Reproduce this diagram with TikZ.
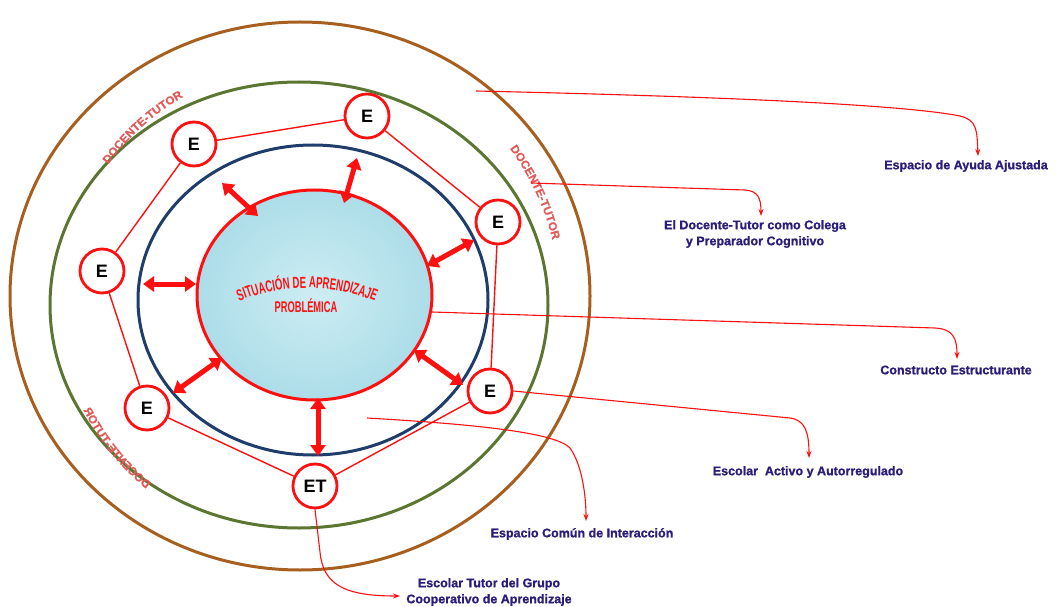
\documentclass[tikz,border=0pt]{standalone}
\usepackage{fontspec}
\setmainfont{Liberation Sans}
\newfontfamily\condfont[FakeStretch=0.6]{Liberation Sans}
\newfontfamily\widefont[FakeStretch=1.02,FakeBold=0.8]{Liberation Sans}
\newfontfamily\lblfont[FakeBold=1]{Liberation Sans}
\usetikzlibrary{arrows.meta,decorations.text}
\definecolor{cbrown}{HTML}{A65F1F}
\definecolor{cgreen}{HTML}{5B7630}
\definecolor{cblue}{HTML}{1E3D6B}
\definecolor{cred}{HTML}{FF1010}
\definecolor{cin}{HTML}{CDEDF3}
\definecolor{cout}{HTML}{ACDDE8}
\definecolor{cnavy}{HTML}{2B1D7A}
\definecolor{cpink}{HTML}{E25A5A}
\begin{document}
\begin{tikzpicture}[x=1pt,y=-1pt,
  ring/.style={line width=3pt},
  enode/.style={circle,draw=cred,line width=2.8pt,fill=white,minimum size=44pt,inner sep=0pt,font=\fontsize{18}{18}\selectfont\bfseries},
  link/.style={draw=cred,line width=1.4pt},
  dbl/.style={draw=cred,line width=5pt,{Triangle[width=15pt,length=11pt]}-{Triangle[width=15pt,length=11pt]}},
  lead/.style={draw=cred,line width=1.1pt,-{Stealth[length=7pt,width=5pt]}},
  lbl/.style={text=cnavy,font=\lblfont\fontsize{12.5}{16}\selectfont\bfseries,align=center,inner sep=0pt},
  dtext/.style={decorate,decoration={text along path,text align=center,
     text={|\widefont\bfseries\fontsize{11.5}{11.5}\selectfont\color{cpink}|DOCENTE-TUTOR}}},
]
\useasboundingbox (0,0) rectangle (1058,607);
\fill[white] (0,0) rectangle (1058,607);

% rings
\draw[ring,cbrown] (300,296) ellipse [x radius=290,y radius=274];
\draw[ring,cgreen] (299,305) ellipse [x radius=249,y radius=223];
\draw[ring,cblue] (313,300) ellipse [x radius=175,y radius=155];
\draw[line width=3pt,draw=cred,inner color=cin,outer color=cout] (314.5,295) ellipse [x radius=117.5,y radius=105];

% curved labels DOCENTE-TUTOR
\path[dtext] (300,302) ++(204:236) arc[start angle=204,end angle=252,radius=236];
\path[dtext] (300,302) ++(313:260) arc[start angle=313,end angle=357,radius=260];
\begin{scope}[transform canvas={cm={-1,0,0,1,(600,0)}}]
\path[dtext] (300,302) ++(61:242) arc[start angle=61,end angle=16,radius=242];
\end{scope}

% central text
\path[decorate,decoration={text along path,text align=center,
   text={|\condfont\bfseries\fontsize{16}{16}\selectfont\color{cred}|SITUACIÓN DE APRENDIZAJE}}]
   (307,470) ++(240:182) arc[start angle=240,end angle=300,radius=182];
\node[text=cred,font=\condfont\bfseries\fontsize{15.5}{15.5}\selectfont,inner sep=0pt] (prob) at (306,306) {PROBLÉMICA};

% double arrows
\coordinate (a1o) at (222,183); \coordinate (a1i) at (258,216);
\coordinate (a2o) at (357,158); \coordinate (a2i) at (344,203);
\coordinate (a3o) at (474,240); \coordinate (a3i) at (427,266);
\coordinate (a4o) at (143,284); \coordinate (a4i) at (196,284);
\coordinate (a5o) at (173,393); \coordinate (a5i) at (222,358);
\coordinate (a6o) at (463,385); \coordinate (a6i) at (414,350);
\coordinate (a7o) at (318,456); \coordinate (a7i) at (318,398);
\foreach \k in {1,...,7} {\draw[dbl] (a\k o) -- (a\k i);}

% E nodes
\node[enode] (e1) at (194,144) {E};
\node[enode] (e2) at (367,116) {E};
\node[enode] (e3) at (498,222) {E};
\node[enode] (e4) at (490,391) {E};
\node[enode] (et) at (315,486) {ET};
\node[enode] (e5) at (147,408) {E};
\node[enode] (e6) at (102,271) {E};
\draw[link] (e1) -- (e2);
\draw[link] (e2) -- (e3);
\draw[link] (e3) -- (e4);
\draw[link] (e4) -- (et);
\draw[link] (et) -- (e5);
\draw[link] (e5) -- (e6);
\draw[link] (e6) -- (e1);

% labels
\node[lbl] (l1) at (966,166) {Espacio de Ayuda Ajustada};
\node[lbl] (l2) at (755,234) {El Docente-Tutor como Colega\\y Preparador Cognitivo};
\node[lbl] (l3) at (956,370) {Constructo Estructurante};
\node[lbl] (l4) at (808,472) {Escolar~ Activo y Autorregulado};
\node[lbl] (l5) at (582,534) {Espacio Común de Interacción};
\node[lbl] (l6) at (489,592) {Escolar Tutor del Grupo\\Cooperativo de Aprendizaje};

% leader lines
\coordinate (s1) at (476,91);  \coordinate (t1) at (978,156);
\coordinate (s2) at (531,183); \coordinate (t2) at (761,216);
\coordinate (s3) at (432,312); \coordinate (t3) at (957,359);
\coordinate (s5) at (367,418); \coordinate (t5) at (586,521);
\coordinate (t4) at (809,458);
\coordinate (t6) at (400,596);
\draw[lead] (s1) .. controls (700,96) and (900,104) .. (960,116) .. controls (977,120) and (977,130) .. (t1);
\draw[lead] (s2) -- (745,190) .. controls (758,191) and (761,198) .. (t2);
\draw[lead] (s3) -- (935,328) .. controls (953,329) and (957,338) .. (t3);
\draw[lead] (e4.east) -- (790,418) .. controls (805,420) and (809,432) .. (t4);
\draw[lead] (s5) .. controls (470,424) and (555,432) .. (570,448) .. controls (582,465) and (586,495) .. (t5);
\draw[lead] (et.south) -- (320,552) .. controls (323,585) and (345,596) .. (t6);
\end{tikzpicture}
\end{document}
